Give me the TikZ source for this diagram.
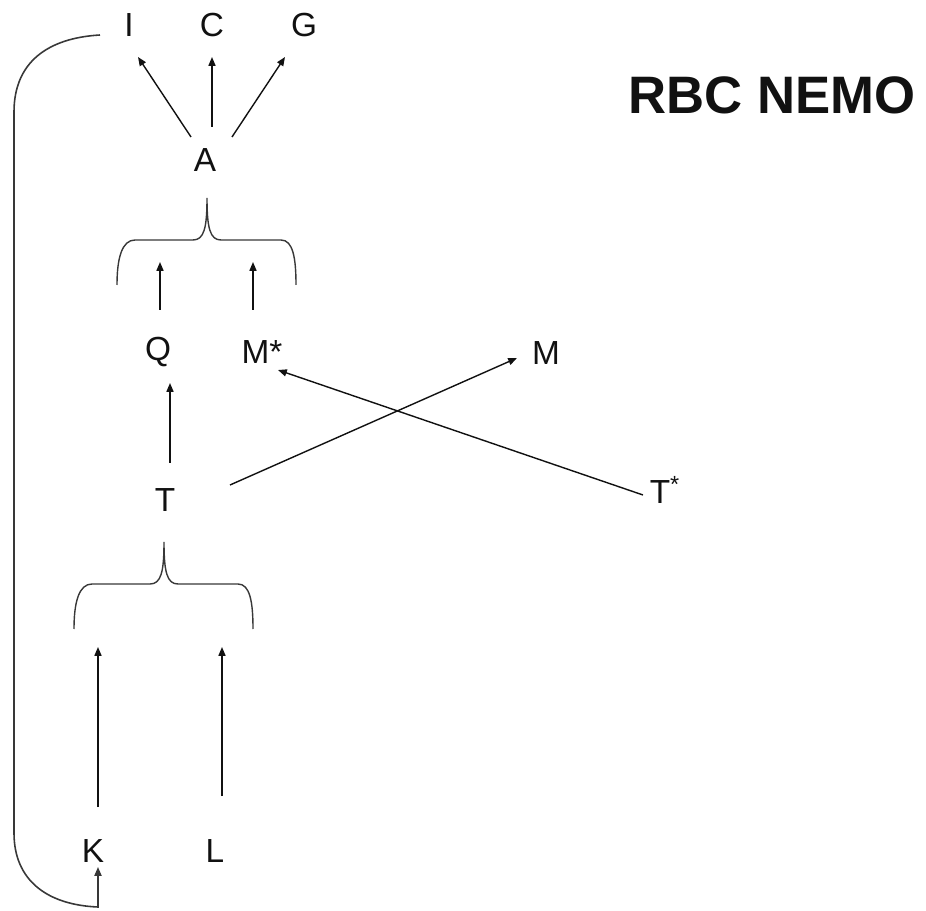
\documentclass[tikz,border=0pt]{standalone}
\usepackage{fontspec}
\setmainfont{Liberation Sans}
\usetikzlibrary{arrows.meta}
\definecolor{nemoink}{HTML}{111111}
\definecolor{nemoline}{HTML}{383838}
% curly brace, #1 = its tip; the two ends hang below it
\newcommand{\curlybrace}[1]{%
  \draw[brace, shift={(#1)}] (-90,87) .. controls (-90,60) and (-85,42) .. (-72,42)
    -- (-14,42) .. controls (-3,42) and (0,30) .. (0,0)
    .. controls (0,30) and (3,42) .. (14,42)
    -- (74,42) .. controls (86,42) and (89,60) .. (89,87);}

\begin{document}
\begin{tikzpicture}[
  x=0.02cm,
  y=-0.02cm,
  every node/.style={nemoink},
  letter/.style={font=\fontsize{19}{22}\selectfont, inner sep=0pt},
  title/.style={font=\fontsize{30}{36}\selectfont\bfseries, inner sep=0pt},
  arrow/.style={nemoink, line width=0.8pt, -{Triangle[length=5pt, width=4pt]}},
  brace/.style={nemoline, line width=0.8pt},
  loop/.style={nemoline, line width=0.9pt, -{Triangle[length=5pt, width=4pt]}}
]
  \useasboundingbox (0,0) rectangle (926,911);

  % ---- letters ----------------------------------------------------------
  \node[letter] (I) at (129,25) {I};
  \node[letter] (C) at (212,25) {C};
  \node[letter] (G) at (304,25) {G};
  \node[letter] (A) at (205,160) {A};
  \node[letter] (Q) at (158,352) {Q};
  \node[letter] (Mstar) at (262,352) {M*};
  \node[letter] (M) at (546,353) {M};
  \node[letter] (T) at (165,500) {T};
  \node[letter] (Tstar) at (665,490) {T\textsuperscript{*}};
  \node[letter] (K) at (93,851) {K};
  \node[letter] (L) at (215,851) {L};
  \node[title] (nemo) at (772,95) {RBC NEMO};

  % ---- the two braces ---------------------------------------------------
  \coordinate (tipA) at (207,198);
  \coordinate (tipT) at (164,542);
  \curlybrace{tipA}
  \curlybrace{tipT}

  % ---- A to I, C, G -----------------------------------------------------
  \draw[arrow] ([shift={(-14,-23)}]A.center) -- ([shift={(9,32)}]I.center);
  \draw[arrow] ([shift={(7,-33)}]A.center) -- ([shift={(0,32)}]C.center);
  \draw[arrow] ([shift={(27,-23)}]A.center) -- ([shift={(-19,32)}]G.center);

  % ---- into the upper brace ---------------------------------------------
  \draw[arrow] ([shift={(2,-42)}]Q.center) -- ++(0,-48);
  \draw[arrow] ([shift={(-9,-42)}]Mstar.center) -- ++(0,-48);

  % ---- from T and T* ----------------------------------------------------
  \draw[arrow] ([shift={(5,-37)}]T.center) -- ([shift={(12,31)}]Q.center);
  \draw[arrow] ([shift={(65,-15)}]T.center) -- ([shift={(-29,5)}]M.center);
  \draw[arrow] ([shift={(-22,5)}]Tstar.center) -- ([shift={(16,18)}]Mstar.center);

  % ---- into the lower brace ---------------------------------------------
  \draw[arrow] ([shift={(5,-44)}]K.center) -- ++(0,-160);
  \draw[arrow] ([shift={(7,-55)}]L.center) -- ++(0,-149);

  % ---- feedback from I round to K ---------------------------------------
  \draw[loop] ([shift={(-29,10)}]I.center) .. controls +(-52,3) and +(0,-50) .. (14,112)
    -- (14,833) .. controls +(0,48) and +(-50,-2) .. (98,907)
    -- ([shift={(5,16)}]K.center);
\end{tikzpicture}
\end{document}
